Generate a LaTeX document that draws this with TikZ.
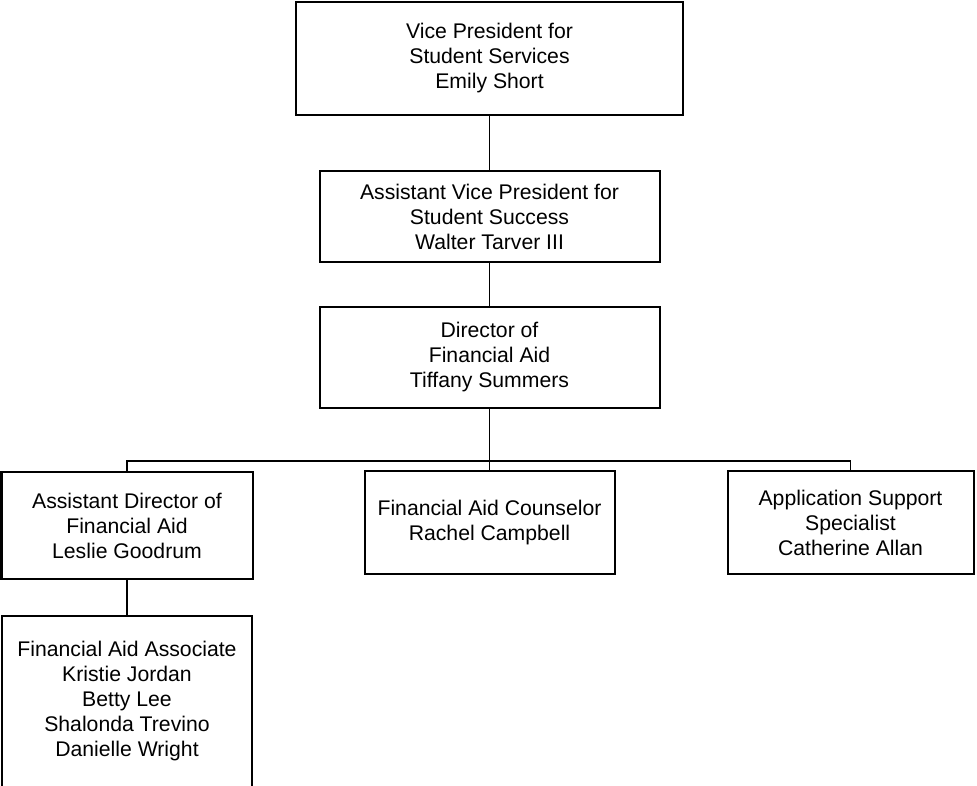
\documentclass[tikz,border=0pt]{standalone}
\usepackage{fontspec}
\setmainfont{Liberation Sans}
\usetikzlibrary{positioning}

\begin{document}
\begin{tikzpicture}[x=0.75pt, y=-0.75pt, line width=0.9pt,
    orgbox/.style={draw, rectangle, line width=1.5pt, align=center, inner sep=2pt, outer sep=0pt,
        font=\fontsize{15.9}{18.75}\selectfont}]
    \clip (0,0) rectangle (977,785);

    \node[orgbox, minimum width=290.25pt, minimum height=84.75pt] (VP) at (489.5,58.5) {Vice President for\\Student Services\\Emily Short};
    \node[orgbox, minimum width=255pt, minimum height=68.25pt, below=42pt of VP] (AVP) {Assistant Vice President for\\Student Success\\Walter Tarver III};
    \node[orgbox, minimum width=255pt, minimum height=75.75pt, below=33.75pt of AVP] (Dir) {Director of\\Financial Aid\\Tiffany Summers};
    \node[orgbox, minimum width=187.5pt, minimum height=77.25pt, below=47.25pt of Dir] (Counselor) {Financial Aid Counselor\\Rachel Campbell};
    \node[orgbox, minimum width=188.25pt, minimum height=80.25pt, left=84pt of Counselor, yshift=-2.25pt] (AsstDir) {Assistant Director of\\Financial Aid\\Leslie Goodrum};
    \node[orgbox, minimum width=184.5pt, minimum height=77.25pt, right=84.75pt of Counselor] (AppSupp) {Application Support\\Specialist\\Catherine Allan};
    \node[orgbox, minimum width=187.5pt, minimum height=128.25pt, below=27.75pt of AsstDir] (Associate) {Financial Aid Associate\\Kristie Jordan\\Betty Lee\\Shalonda Trevino\\Danielle Wright};

    \coordinate[above=7.5pt of Counselor.north] (bus);

    \draw (VP) -- (AVP);
    \draw (AVP) -- (Dir);
    \draw (Dir) -- (Counselor);
    \draw (AsstDir.north) |- (bus) -| (AppSupp.north);
    \draw (AsstDir) -- (Associate);
\end{tikzpicture}
\end{document}
